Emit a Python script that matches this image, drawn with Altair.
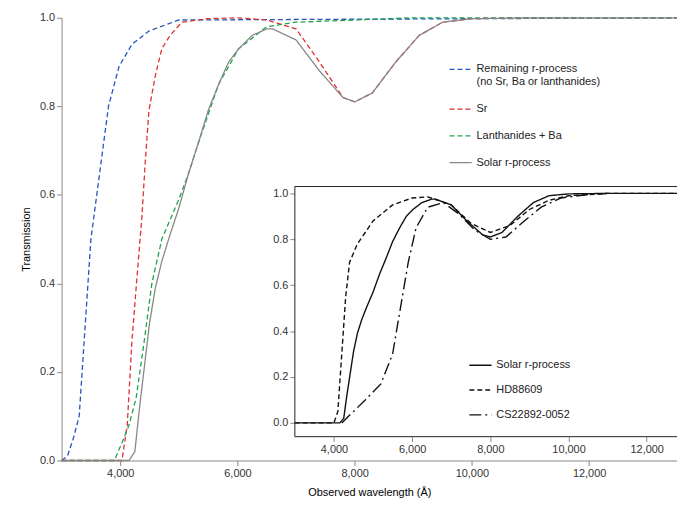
import altair as alt
import pandas as pd

solar_x = [3000,4150,4250,4330,4420,4500,4600,4710,4850,5000,5170,5340,5500,5680,5850,6020,6250,6500,6600,7000,7400,7800,8000,8300,8700,9100,9500,10000,11000,13500]
solar_y = [0,0,0.02,0.12,0.22,0.31,0.39,0.45,0.51,0.57,0.65,0.72,0.79,0.85,0.9,0.93,0.96,0.975,0.975,0.95,0.88,0.82,0.81,0.83,0.9,0.96,0.99,0.998,1,1]
blue_x = [3000,3100,3200,3300,3400,3500,3640,3800,3980,4200,4490,5000,13500]
blue_y = [0,0.01,0.05,0.1,0.3,0.5,0.64,0.8,0.89,0.94,0.97,0.995,1]
red_x = [3000,4030,4120,4200,4290,4370,4430,4490,4600,4710,4850,5050,5500,6000,6500,7000,7400,7800,8000,8300,8700,9100,9500,10000,11000,13500]
red_y = [0,0,0.08,0.27,0.42,0.55,0.68,0.79,0.87,0.93,0.96,0.99,0.998,1,0.995,0.975,0.9,0.82,0.81,0.83,0.9,0.96,0.99,0.998,1,1]
green_x = [3000,3900,4030,4150,4270,4400,4540,4710,5000,5170,5340,5680,6020,6500,7000,8000,9000,13500]
green_y = [0,0,0.04,0.08,0.14,0.26,0.4,0.5,0.59,0.65,0.72,0.85,0.93,0.98,0.99,0.995,1,1]
hd_x = [3000,4000,4100,4200,4300,4400,4600,5000,5500,6000,6400,7000,7500,8000,8500,9000,9500,10000,11000,12800]
hd_y = [0,0,0.05,0.3,0.55,0.7,0.78,0.88,0.95,0.98,0.985,0.95,0.87,0.83,0.86,0.93,0.97,0.99,1,1]
cs_x = [4200,4500,4800,5200,5500,5700,5900,6100,6400,6800,7200,7600,8000,8400,8800,9300,9800,10500,11000]
cs_y = [0,0.05,0.1,0.17,0.3,0.5,0.7,0.85,0.94,0.96,0.91,0.84,0.8,0.81,0.87,0.94,0.98,0.995,1]

s_main = ["Remaining r-process|(no Sr, Ba or lanthanides)", "Sr", "Lanthanides + Ba", "Solar r-process"]
s_in = ["Solar r-process", "HD88609", "CS22892-0052"]

def frame(xs, ys, name):
    return pd.DataFrame({"x": xs, "y": ys, "s": name})

main = pd.concat([frame(blue_x, blue_y, s_main[0]), frame(red_x, red_y, s_main[1]),
                  frame(green_x, green_y, s_main[2]), frame(solar_x, solar_y, s_main[3])])
sx = [x for x in solar_x if x < 12800] + [12800]
sy = [y for x, y in zip(solar_x, solar_y) if x < 12800] + [1]
ins = pd.concat([frame(sx, sy, s_in[0]), frame(hd_x, hd_y, s_in[1]), frame(cs_x, cs_y, s_in[2])])

W, H = 620, 446
xi_dom, yi_dom = [3000, 12800], [-0.06, 1.03]
xi_rng, yi_rng = [235, 621], [422, 170]
comma = "replace(format(datum.value, ','), '.0', '')"

mx = alt.X("x:Q", scale=alt.Scale(domain=[3000, 13500], nice=False),
           axis=alt.Axis(values=[4000,6000,8000,10000,12000], labelExpr="format(datum.value, ',')", title="Observed wavelength (Å)",
                         labelColor="#333", labelFontSize=11, titleFontSize=11, titleFontWeight="normal", grid=False, titlePadding=8))
my = alt.Y("y:Q", scale=alt.Scale(domain=[0, 1], nice=False),
           axis=alt.Axis(values=[0,0.2,0.4,0.6,0.8,1.0], format=".1f", title="Transmission", labelBaseline="middle",
                         labelColor="#333", labelFontSize=11, titleFontSize=11, titleFontWeight="normal", grid=False, titlePadding=8))

main_lines = alt.Chart(main).mark_line().encode(
    x=mx, y=my,
    color=alt.Color("s:N", scale=alt.Scale(domain=s_main, range=["#2255bb", "#e03030", "#22a050", "#888888"]),
                    legend=alt.Legend(title=None, orient="none", legendX=390, legendY=40, symbolType="stroke",
                                      symbolSize=500, symbolStrokeWidth=1.5, labelFontSize=11, labelColor="#222", rowPadding=10,
                                      labelExpr="split(datum.label, '|')", labelLimit=300)),
    strokeDash=alt.StrokeDash("s:N", scale=alt.Scale(domain=s_main, range=[[5, 3], [5, 3], [5, 3], [1, 0]])),
    strokeWidth=alt.StrokeWidth("s:N", scale=alt.Scale(domain=s_main, range=[1.3, 1.3, 1.3, 3])),
    order=alt.Order("s:N", sort="descending"),
)

box = alt.Chart(pd.DataFrame({"a": [xi_dom[0]], "b": [xi_dom[1]], "c": [yi_dom[0]], "d": [yi_dom[1]]})).mark_rect(
    fill="white", stroke="#222", strokeWidth=1).encode(
    x=alt.X("a:Q", scale=alt.Scale(domain=xi_dom, range=xi_rng, nice=False, zero=False), axis=None),
    x2="b:Q",
    y=alt.Y("c:Q", scale=alt.Scale(domain=yi_dom, range=yi_rng, nice=False, zero=False), axis=None),
    y2="d:Q")

ix = alt.X("x:Q", scale=alt.Scale(domain=xi_dom, range=xi_rng, nice=False, zero=False),
           axis=alt.Axis(orient="bottom", offset=-(H - 422), values=[4000,6000,8000,10000,12000],
                         labelExpr="format(datum.value, ',')",
                         title=None, labelColor="#333", labelFontSize=11, grid=False, domain=False))
iy = alt.Y("y:Q", scale=alt.Scale(domain=yi_dom, range=yi_rng, nice=False, zero=False),
           axis=alt.Axis(orient="left", offset=-235, values=[0,0.2,0.4,0.6,0.8,1.0], format=".1f",
                         title=None, labelColor="#333", labelFontSize=11, grid=False, domain=False))

inset_lines = alt.Chart(ins).mark_line(color="#111", strokeWidth=1.4).encode(
    x=ix, y=iy,
    strokeDash=alt.StrokeDash("s:N", scale=alt.Scale(domain=s_in, range=[[1, 0], [5, 3], [12, 4, 2, 4]]),
                              legend=alt.Legend(title=None, orient="none", legendX=410, legendY=338, symbolType="stroke",
                                                symbolSize=500, symbolStrokeColor="#111", symbolStrokeWidth=1.4,
                                                labelFontSize=11, labelColor="#222", rowPadding=8)))

chart = alt.layer(main_lines, box, inset_lines).resolve_scale(
    x="independent", y="independent", strokeDash="independent", color="independent", strokeWidth="independent"
).properties(width=W, height=H, autosize=alt.AutoSizeParams(type="none"),
             padding={"left": 54, "top": 8, "right": 0, "bottom": 46}).configure_view(stroke=None)

chart.save("out.html", embed_options={"renderer": "svg", "actions": False})
